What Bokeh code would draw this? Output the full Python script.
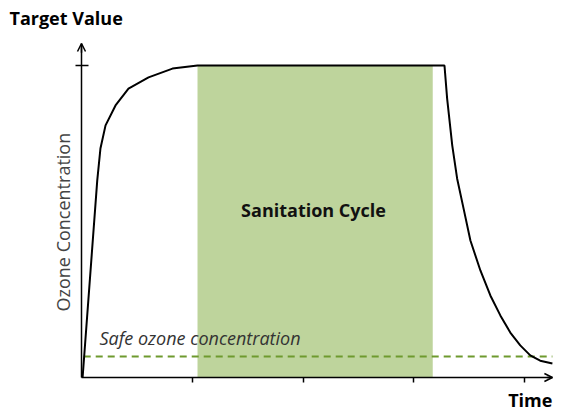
from bokeh.plotting import figure
from bokeh.models import (LinearAxis, FixedTicker, Label, Arrow, OpenHead,
                          Range1d, ColumnDataSource)
from bokeh.embed import file_html
from bokeh.resources import INLINE

# ---- data ----
curve_t = [0.01, 0.142, 0.171, 0.217, 0.307, 0.424, 0.605, 0.821, 1.047,
           3.276, 3.30, 3.346, 3.39, 3.448, 3.51, 3.60, 3.69, 3.78, 3.87,
           3.96, 4.05, 4.14, 4.25]
curve_c = [0.0, 0.631, 0.734, 0.808, 0.872, 0.926, 0.962, 0.990, 1.0,
           1.0, 0.894, 0.744, 0.638, 0.542, 0.439, 0.343, 0.263, 0.199, 0.144,
           0.103, 0.071, 0.054, 0.045]
cycle_start = 1.047
cycle_end = 3.17
target_level = 1.0
safe_level = 0.067
time_ticks = [1, 2, 3, 4]
target_ticks = [1]
x_max = 4.25
y_max = 1.0705

FONT = "Open Sans"

p = figure(width=572, height=415, output_backend="svg", toolbar_location=None,
           x_range=Range1d(-0.7310, 4.3231), y_range=Range1d(-0.09615, 1.2083),
           x_axis_type=None, y_axis_type=None,
           min_border_left=0, min_border_right=12,
           min_border_top=0, min_border_bottom=8)
p.outline_line_color = None
p.grid.visible = False
p.background_fill_color = "white"
p.border_fill_color = "white"


def style_axis(ax, ticks, tick_out, tick_in):
    ax.major_label_overrides = {t: "" for t in ticks}
    ax.major_label_standoff = 0
    ax.major_tick_out = tick_out
    ax.major_tick_in = tick_in
    ax.minor_tick_out = 0
    ax.minor_tick_in = 0
    ax.axis_line_width = 1.5
    ax.major_tick_line_width = 1.5
    ax.axis_line_color = "black"
    ax.major_tick_line_color = "black"


# axes (drawn inside the frame at the origin)
xax = LinearAxis(ticker=FixedTicker(ticks=time_ticks), fixed_location=0,
                 bounds=(0, x_max))
style_axis(xax, time_ticks, 5, 0)
p.add_layout(xax, "below")

yax = LinearAxis(ticker=FixedTicker(ticks=target_ticks), fixed_location=0,
                 bounds=(0, y_max))
style_axis(yax, target_ticks, 7, 6)
p.add_layout(yax, "right")

# arrow heads
p.add_layout(Arrow(end=OpenHead(size=8, line_width=1.5, line_color="black"),
                   x_start=x_max - 0.05, y_start=0, x_end=x_max, y_end=0,
                   line_width=1.5, line_color="black"))
p.add_layout(Arrow(end=OpenHead(size=8, line_width=1.5, line_color="black"),
                   x_start=0, y_start=y_max - 0.03, x_end=0, y_end=y_max,
                   line_width=1.5, line_color="black"))

# sanitation cycle band
p.quad(left=[cycle_start], right=[cycle_end], bottom=[0], top=[target_level],
       fill_color="#bed49c", line_color=None)

# safe level
p.line([0.02, x_max], [safe_level, safe_level], line_color="#6e9a2e",
       line_width=2, line_dash="7 5")

# concentration curve
src = ColumnDataSource(dict(t=curve_t, c=curve_c))
p.line("t", "c", source=src, line_color="black", line_width=2)

# texts
p.add_layout(Label(x=-0.65, y=1.151, text="Target Value", text_font=FONT,
                   text_font_style="bold", text_font_size="18px",
                   text_baseline="middle", text_align="left", text_color="black"))
p.add_layout(Label(x=2.094, y=0.538, text="Sanitation Cycle", text_font=FONT,
                   text_font_style="bold", text_font_size="18px",
                   text_baseline="middle", text_align="center", text_color="#111111"))
p.add_layout(Label(x=0.162, y=0.125, text="Safe ozone concentration", text_font=FONT,
                   text_font_style="italic", text_font_size="18px",
                   text_baseline="middle", text_align="left", text_color="#333333"))
p.add_layout(Label(x=-0.171, y=0.498, text="Ozone Concentration", text_font=FONT,
                   text_font_size="18px", angle=1.5708, text_baseline="middle",
                   text_align="center", text_color="#444444"))
p.add_layout(Label(x=x_max, y=-0.0737, text="Time", text_font=FONT,
                   text_font_style="bold", text_font_size="18px",
                   text_baseline="middle", text_align="right", text_color="black"))

open("out.html", "w").write(file_html(p, INLINE))
